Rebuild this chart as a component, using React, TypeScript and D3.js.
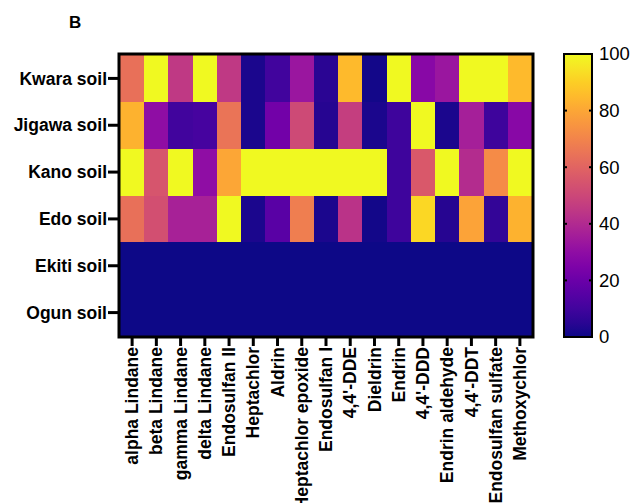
import React, { useEffect, useRef } from 'react';
import * as d3 from 'd3';

const soils = ['Kwara soil', 'Jigawa soil', 'Kano soil', 'Edo soil', 'Ekiti soil', 'Ogun soil'];
const pesticides = [
  'alpha Lindane', 'beta Lindane', 'gamma Lindane', 'delta Lindane', 'Endosulfan II',
  'Heptachlor', 'Aldrin', 'Heptachlor epoxide', 'Endosulfan I', "4,4'-DDE", 'Dieldrin',
  'Endrin', "4,4'-DDD", 'Endrin aldehyde', "4,4'-DDT", 'Endosulfan sulfate', 'Methoxychlor',
];

// percent values per soil, same order as pesticides
const kwara = [64, 100, 45, 100, 45, 2, 10, 33, 5, 85, 1, 100, 28, 33, 100, 100, 85];
const jigawa = [83, 30, 10, 11, 65, 2, 22, 51, 4, 47, 2, 9, 100, 2, 36, 9, 28];
const kano = [100, 55, 100, 30, 80, 100, 100, 100, 100, 100, 100, 9, 56, 100, 41, 72, 100];
const edo = [64, 53, 37, 37, 100, 2, 16, 68, 2, 43, 1, 9, 92, 4, 79, 7, 83];
const ekiti = [0, 0, 0, 0, 0, 0, 0, 0, 0, 0, 0, 0, 0, 0, 0, 0, 0];
const ogun = [0, 0, 0, 0, 0, 0, 0, 0, 0, 0, 0, 0, 0, 0, 0, 0, 0];

const colorTicks = [0, 20, 40, 60, 80, 100];

const App = () => {
  const ref = useRef<SVGSVGElement | null>(null);

  useEffect(() => {
    if (!ref.current) return;
    const svg = d3.select(ref.current);
    svg.selectAll('*').remove();

    const rows = [kwara, jigawa, kano, edo, ekiti, ogun];
    const cells: { soil: string; pest: string; value: number }[] = [];
    soils.forEach((s, i) => {
      pesticides.forEach((p, j) => cells.push({ soil: s, pest: p, value: rows[i][j] }));
    });

    const font = 'Liberation Sans, Arial, sans-serif';
    const left = 120, right = 532, top = 55, bottom = 336;

    const x = d3.scaleBand().domain(pesticides).range([left, right]);
    const y = d3.scaleBand().domain(soils).range([top, bottom]);
    const color = d3.scaleSequential(d3.interpolatePlasma).domain([0, 100]);

    svg.append('g')
      .attr('shape-rendering', 'crispEdges')
      .selectAll('rect')
      .data(cells)
      .enter()
      .append('rect')
      .attr('x', d => x(d.pest)!)
      .attr('y', d => y(d.soil)!)
      .attr('width', x.bandwidth() + 1)
      .attr('height', y.bandwidth() + 1)
      .attr('fill', d => color(d.value));

    // frame
    svg.append('rect')
      .attr('x', left - 1)
      .attr('y', top - 1)
      .attr('width', right - left + 2)
      .attr('height', bottom - top + 2)
      .attr('fill', 'none')
      .attr('stroke', '#000')
      .attr('stroke-width', 3);

    // left axis
    const yAxis = svg.append('g');
    soils.forEach(s => {
      const cy = y(s)! + y.bandwidth() / 2;
      yAxis.append('line')
        .attr('x1', left - 12).attr('x2', left - 1)
        .attr('y1', cy).attr('y2', cy)
        .attr('stroke', '#000').attr('stroke-width', 3);
      yAxis.append('text')
        .attr('x', left - 13)
        .attr('y', cy)
        .attr('dy', '0.35em')
        .attr('text-anchor', 'end')
        .style('font-family', font)
        .style('font-weight', 'bold')
        .style('font-size', '17.5px')
        .text(s);
    });

    // bottom axis
    const xAxis = svg.append('g');
    pesticides.forEach(p => {
      const cx = x(p)! + x.bandwidth() / 2;
      xAxis.append('line')
        .attr('x1', cx).attr('x2', cx)
        .attr('y1', bottom + 1).attr('y2', bottom + 10)
        .attr('stroke', '#000').attr('stroke-width', 3);
      xAxis.append('text')
        .attr('transform', `translate(${cx},${bottom + 11}) rotate(-90)`)
        .attr('dy', '0.35em')
        .attr('text-anchor', 'end')
        .style('font-family', font)
        .style('font-weight', 'bold')
        .style('font-size', '17.5px')
        .text(p);
    });

    // colour bar
    const cbX = 564, cbW = 28;
    const cy = d3.scaleLinear().domain([0, 100]).range([bottom + 1, top - 1]);
    const defs = svg.append('defs');
    const grad = defs.append('linearGradient')
      .attr('id', 'plasma')
      .attr('x1', 0).attr('y1', 1).attr('x2', 0).attr('y2', 0);
    d3.range(0, 1.0001, 0.05).forEach(t => {
      grad.append('stop').attr('offset', t).attr('stop-color', d3.interpolatePlasma(t));
    });
    svg.append('rect')
      .attr('x', cbX).attr('y', cy(100))
      .attr('width', cbW).attr('height', cy(0) - cy(100))
      .attr('fill', 'url(#plasma)')
      .attr('stroke', '#000').attr('stroke-width', 2);
    colorTicks.forEach(t => {
      if (t > 0 && t < 100) {
        svg.append('line')
          .attr('x1', cbX).attr('x2', cbX + 3)
          .attr('y1', cy(t)).attr('y2', cy(t))
          .attr('stroke', '#000').attr('stroke-width', 2);
        svg.append('line')
          .attr('x1', cbX + cbW - 3).attr('x2', cbX + cbW)
          .attr('y1', cy(t)).attr('y2', cy(t))
          .attr('stroke', '#000').attr('stroke-width', 2);
      }
      svg.append('text')
        .attr('x', cbX + cbW + 7)
        .attr('y', cy(t))
        .attr('dy', '0.35em')
        .style('font-family', font)
        .style('font-size', '18.5px')
        .text(t);
    });

    // panel letter
    svg.append('text')
      .attr('x', 69)
      .attr('y', 28)
      .style('font-family', font)
      .style('font-weight', 'bold')
      .style('font-size', '17px')
      .text('B');
  }, []);

  return (
    <svg
      ref={ref}
      width={634}
      height={503}
      style={{ position: 'absolute', left: 0, top: 0, background: '#fff' }}
    />
  );
};

export default App;
